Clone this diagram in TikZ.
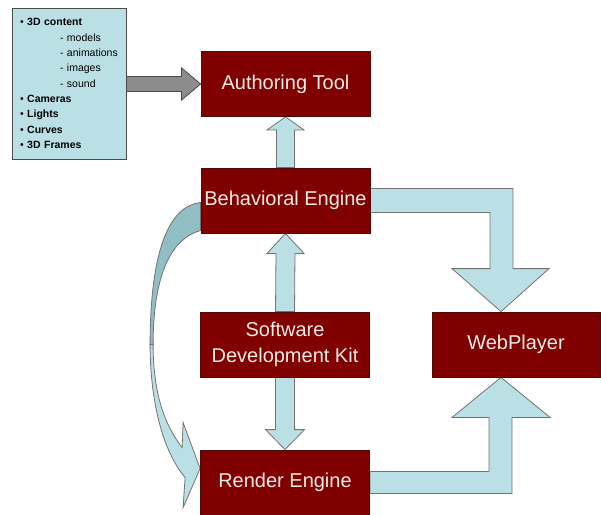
\documentclass[tikz,border=0pt]{standalone}
\usepackage{fontspec}
\setmainfont{Liberation Sans}
\usetikzlibrary{calc,backgrounds}

\definecolor{boxred}{RGB}{128,0,0}
\definecolor{boxedge}{RGB}{80,10,10}
\definecolor{boxtext}{RGB}{246,236,230}
\definecolor{flowblue}{RGB}{186,223,228}
\definecolor{flowdark}{RGB}{145,190,196}
\definecolor{feedgray}{RGB}{140,140,140}

\begin{document}
\begin{tikzpicture}[x=1pt, y=-1pt,
	block/.style={fill=boxred, draw=boxedge, line width=0.8pt, text=boxtext,
		minimum width=169pt, minimum height=65pt, align=center,
		font=\fontsize{20}{26}\selectfont},
	listbox/.style={fill=flowblue, draw=black!70, line width=0.8pt,
		minimum height=151pt, text width=98pt, inner xsep=8pt, align=left,
		font=\fontsize{10.5}{15.3}\selectfont},
	flow/.style={fill=flowblue, draw=black!55, line width=0.8pt, line join=miter},
	flowback/.style={fill=flowdark, draw=black!55, line width=0.8pt},
	feed/.style={fill=feedgray, draw=black!70, line width=0.8pt}]
	\useasboundingbox (0,0) rectangle (601,514);
	% the boxes
	\node[block] (auth) at (285.5,84) {Authoring Tool};
	\node[block] (behav) at (285.5,200.5) {Behavioral Engine};
	\node[block] (sdk) at (285,344.5) {Software\\Development Kit};
	\node[block, minimum width=168pt] (web) at (516,344.5) {WebPlayer};
	\node[block] (render) at (285,482.5) {Render Engine};
	\node[listbox] (content) at (69,83.5) {\textbullet\ \textbf{3D content}\\
		\hspace*{40pt}- models\\
		\hspace*{40pt}- animations\\
		\hspace*{40pt}- images\\
		\hspace*{40pt}- sound\\
		\textbullet\ \textbf{Cameras}\\
		\textbullet\ \textbf{Lights}\\
		\textbullet\ \textbf{Curves}\\
		\textbullet\ \textbf{3D Frames}};
	\begin{scope}[on background layer]
	% content feeds the authoring tool
	\filldraw[feed] ($(content.east |- auth.west)+(0,-7.5)$) -- ($(auth.west)+(-19,-7.5)$)
		-- ($(auth.west)+(-19,-16)$) -- (auth.west) -- ($(auth.west)+(-19,16)$)
		-- ($(auth.west)+(-19,7.5)$) -- ($(content.east |- auth.west)+(0,7.5)$) -- cycle;
	% going up
	\filldraw[flow] ($(behav.north)+(-9,0)$) -- ($(auth.south)+(-9,13)$) -- ($(auth.south)+(-18.5,13)$)
		-- (auth.south) -- ($(auth.south)+(18.5,13)$) -- ($(auth.south)+(9,13)$)
		-- ($(behav.north)+(9,0)$) -- cycle;
	\filldraw[flow] ($(sdk.north)+(-9.5,0)$) -- ($(behav.south)+(-9.5,20)$) -- ($(behav.south)+(-18.5,20)$)
		-- (behav.south) -- ($(behav.south)+(18.5,20)$) -- ($(behav.south)+(9.5,20)$)
		-- ($(sdk.north)+(9.5,0)$) -- cycle;
	% going down
	\filldraw[flow] ($(sdk.south)+(-9.5,0)$) -- ($(render.north)+(-9.5,-20)$) -- ($(render.north)+(-19.5,-20)$)
		-- (render.north) -- ($(render.north)+(19.5,-20)$) -- ($(render.north)+(9.5,-20)$)
		-- ($(sdk.south)+(9.5,0)$) -- cycle;
	% both engines into the player
	\coordinate (wtop) at ($(web.north)+(-15,0)$);
	\coordinate (wbot) at ($(web.south)+(-15,0)$);
	\filldraw[flow] ($(behav.east)+(0,-12)$) -- ($(wtop |- behav.east)+(12,-12)$)
		-- ($(wtop)+(12,-43)$) -- ($(wtop)+(48,-43)$) -- (wtop) -- ($(wtop)+(-49,-43)$)
		-- ($(wtop)+(-11,-43)$) -- ($(wtop |- behav.east)+(-11,12)$) -- ($(behav.east)+(0,12)$) -- cycle;
	\filldraw[flow] ($(render.east)+(0,-11)$) -- ($(wbot |- render.east)+(-12,-11)$)
		-- ($(wbot)+(-12,40)$) -- ($(wbot)+(-49,40)$) -- (wbot) -- ($(wbot)+(49,40)$)
		-- ($(wbot)+(11,40)$) -- ($(wbot |- render.east)+(11,11)$) -- ($(render.east)+(0,11)$) -- cycle;
	% curved arrow round the left side
	\coordinate (bstart) at ($(behav.west)+(0,2)$);
	\coordinate (bin) at ($(behav.west)+(0,30)$);
	\coordinate (bendo) at ($(sdk.west)+(-50,0)$);
	\coordinate (bendi) at ($(sdk.west)+(-47,0)$);
	\coordinate (rtip) at ($(render.west)+(0,-14)$);
	\filldraw[flowback] (bstart) .. controls +(-31,3) and +(0,-95) .. (bendo) -- (bendi)
		.. controls +(0,-55) and +(-36,10) .. (bin) -- cycle;
	\filldraw[flow] (bendo) .. controls +(0,55) and +(-23,-27) .. ($(rtip)+(-15,9)$)
		-- ($(rtip)+(-17,39)$) -- (rtip) -- ($(rtip)+(-17,-46)$) -- ($(rtip)+(-18,-21)$)
		.. controls +(-17,-22) and +(0,50) .. (bendi) -- cycle;
	\end{scope}
\end{tikzpicture}
\end{document}
